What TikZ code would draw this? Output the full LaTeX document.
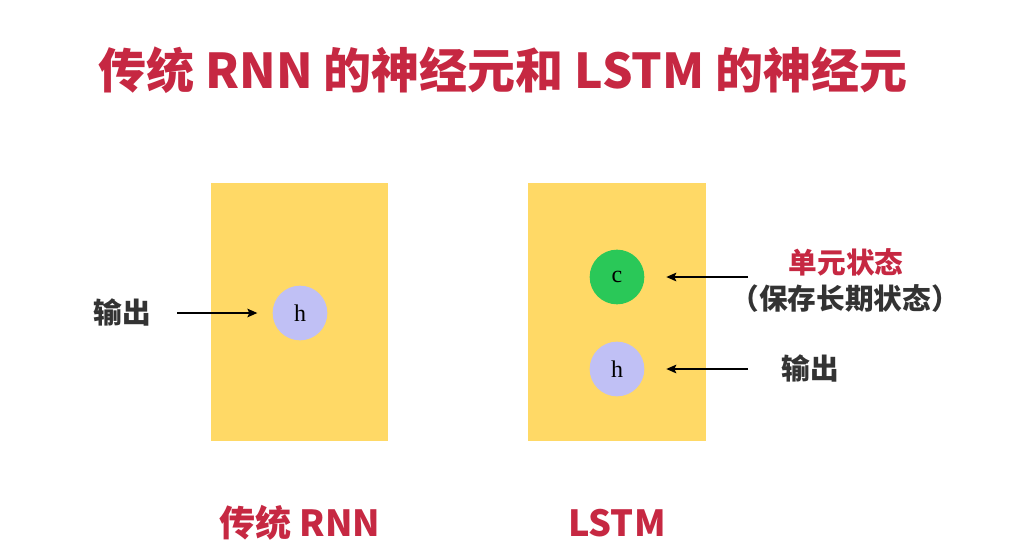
\documentclass[tikz,border=0pt]{standalone}
\usepackage{fontspec}
\setmainfont{Noto Sans CJK SC}
\newfontfamily\cellfont{Liberation Serif}
\usetikzlibrary{arrows.meta}
\definecolor{titlered}{RGB}{198,40,66}
\definecolor{cellyellow}{RGB}{255,217,102}
\definecolor{stategreen}{RGB}{42,200,88}
\definecolor{hiddenblue}{RGB}{192,192,245}
\definecolor{labelgray}{RGB}{51,51,51}

\begin{document}
\begin{tikzpicture}[x=0.75pt,y=-0.75pt,->,
  >={Stealth[length=7.5pt,width=6.5pt,inset=1.5pt]},line width=1pt,
  cell box/.style={fill=cellyellow,draw=none,minimum width=133pt,
  minimum height=194pt,inner sep=0pt},
  unit/.style={circle,draw=none,minimum size=41pt,inner sep=0pt,
  font=\cellfont\fontsize{18}{18}\selectfont},
  side label/.style={font=\bfseries\fontsize{21.5}{24}\selectfont,
  text=labelgray,inner sep=0pt},
  name label/.style={font=\bfseries\fontsize{27}{30}\selectfont,
  text=titlered,inner sep=0pt}]

  \useasboundingbox (0,0) rectangle (1030,556);

  \node[font=\bfseries\fontsize{36}{40}\selectfont,text=titlered]
    (title) at (503,70) {传统 RNN 的神经元和 LSTM 的神经元};

  % the two cells
  \node[cell box] (rnn) at (299.5,312) {};
  \node[cell box] (lstm) at (617,312) {};

  \node[unit,fill=hiddenblue] (h1) at (300,313) {h};
  \node[unit,fill=stategreen] (c) at (617,277) {c};
  \node[unit,fill=hiddenblue] (h2) at (617,369) {h};

  \node[side label] (out1) at (122,312) {输出};
  \node[side label,text=titlered] (state) at (846,262) {单元状态};
  \node[side label] (keep) at (845,299) {（保存长期状态）};
  \node[side label] (out2) at (810,368) {输出};

  \node[name label] (rnnname) at (300,523) {传统 RNN};
  \node[name label] (lstmname) at (617,523) {LSTM};

  \coordinate (a1) at (177,313);
  \coordinate (a2) at (748,277);
  \coordinate (a3) at (748,369);

  \path
    (a1) edge [shorten >=11pt] (h1)
    (a2) edge [shorten >=16pt] (c)
    (a3) edge [shorten >=16pt] (h2);

\end{tikzpicture}
\end{document}
